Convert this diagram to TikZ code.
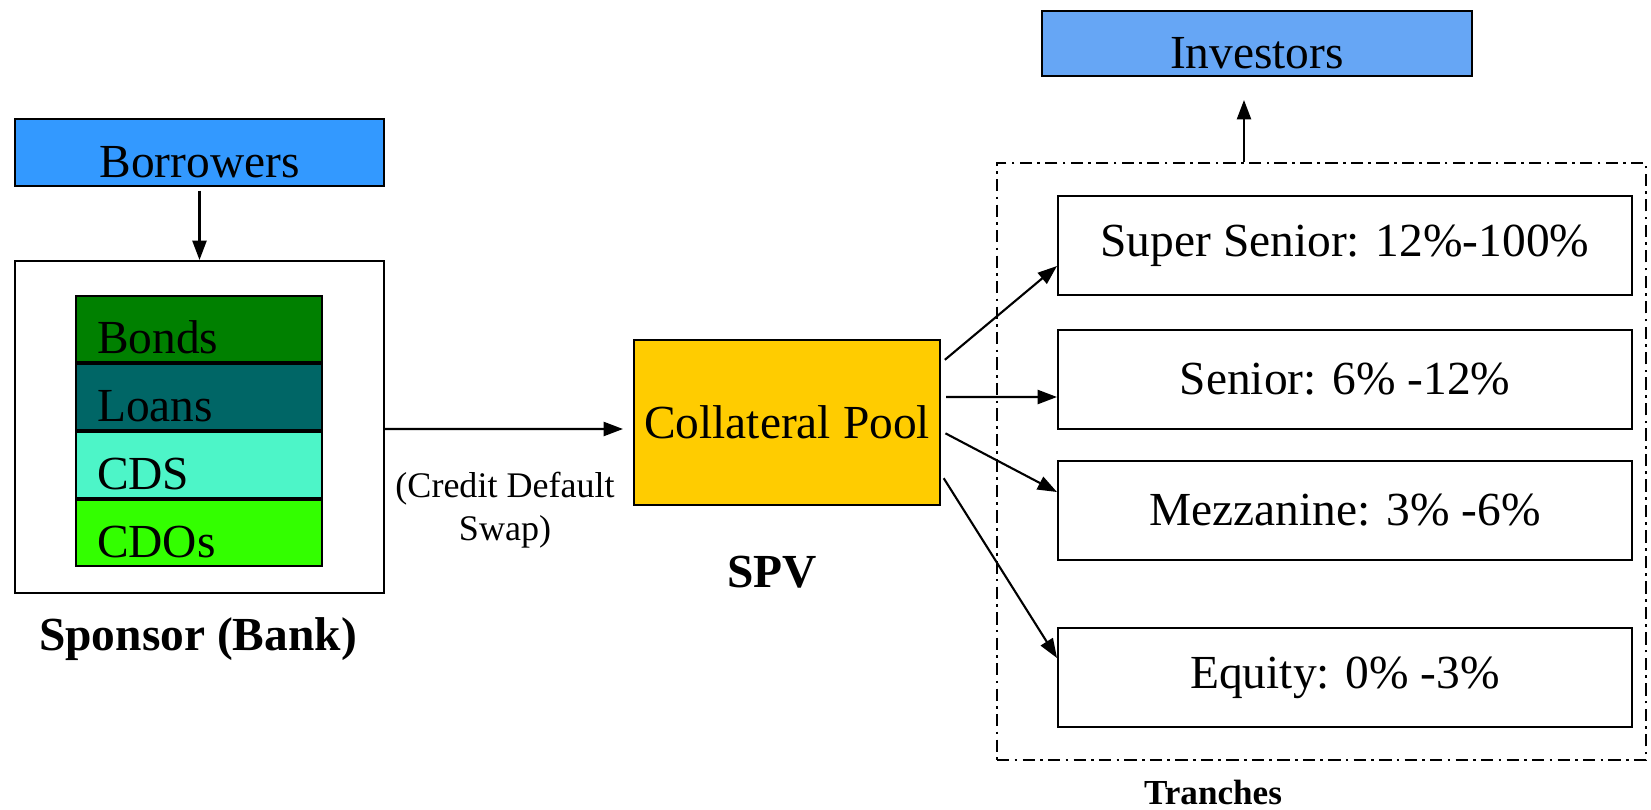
\documentclass[tikz,border=0pt]{standalone}
\usepackage{fontspec}
\setmainfont{Liberation Serif}
\usepackage{tikz}
\usetikzlibrary{positioning,arrows.meta}
\definecolor{borrowblue}{RGB}{51,153,255}
\definecolor{investblue}{RGB}{102,166,245}
\definecolor{bondgreen}{RGB}{0,128,0}
\definecolor{loanteal}{RGB}{0,102,102}
\definecolor{cdsaqua}{RGB}{77,245,200}
\definecolor{cdogreen}{RGB}{51,255,0}
\definecolor{poolgold}{RGB}{255,204,0}

\begin{document}
\begin{tikzpicture}[
x=0.02cm, y=-0.02cm,
node distance=0pt,
every node/.style={font=\fontsize{27}{30}\selectfont, inner sep=0pt},
box/.style={draw, line width=1.2pt, align=center},
lowtext/.style={text height=28pt, text depth=0pt},
layer/.style={box, lowtext, minimum width=4.92cm, minimum height=1.32cm, text width=4.08cm, align=left},
tranche/.style={box, minimum width=11.48cm, minimum height=1.98cm},
caption/.style={font=\fontsize{27}{30}\selectfont\bfseries},
arr/.style={-{Triangle[length=11pt,width=8pt]}, line width=1.2pt}
]
\useasboundingbox (0,0) rectangle (1651,809);

% left side: sponsor and its assets
\node[box, lowtext, fill=borrowblue, minimum width=7.38cm, minimum height=1.34cm] (borrowers) at (199.5,152.5) {Borrowers};
\node[box, minimum width=7.38cm, minimum height=6.64cm] (sponsor) at (199.5,427) {};
\node[layer, fill=bondgreen] (bonds) at (199,329) {Bonds};
\node[layer, fill=loanteal, below=of bonds] (loans) {Loans};
\node[layer, fill=cdsaqua, below=of loans] (cds) {CDS};
\node[layer, fill=cdogreen, below=of cds] (cdos) {CDOs};
\node[caption] (sponsorlbl) at (198,639) {Sponsor (Bank)};

% middle: SPV
\node[box, fill=poolgold, minimum width=6.12cm, minimum height=3.3cm] (pool) at (787,422.5) {Collateral Pool};
\node[caption] (spvlbl) at (772,572) {SPV};
\node[font=\fontsize{20.5}{24.5}\selectfont, align=center] (cdslbl) at (505,510) {(Credit Default\\Swap)};

% right side: tranches
\node[draw, line width=1.2pt, dash pattern=on 7pt off 3pt on 1.5pt off 3pt, minimum width=12.98cm, minimum height=11.94cm] (trframe) at (1321.5,461.5) {};
\node[tranche] (super) at (1345,245.5) {Super Senior: 12\%-100\%};
\node[tranche] (senior) at (1345,379.5) {Senior: 6\% -12\%};
\node[tranche] (mezz) at (1345,510.5) {Mezzanine: 3\% -6\%};
\node[tranche] (equity) at (1345,677.5) {Equity: 0\% -3\%};
\node[font=\fontsize{20}{24}\selectfont\bfseries] (tranchelbl) at (1213,792) {Tranches};
\node[box, lowtext, fill=investblue, minimum width=8.6cm, minimum height=1.3cm] (investors) at (1257,43.5) {Investors};

\coordinate (invtip) at (1244,100);

\draw[arr, shorten <=2pt] (borrowers) -- (sponsor);
\draw[arr, shorten >=0.2cm] ([yshift=-0.04cm]sponsor.east) -- ([yshift=-0.13cm]pool.west);
\draw[arr, shorten <=0.1cm] ([yshift=1.19cm]pool.east) -- ([yshift=-0.41cm]super.west);
\draw[arr, shorten <=0.1cm] ([yshift=0.51cm]pool.east) -- ([yshift=-0.35cm]senior.west);
\draw[arr, shorten <=0.1cm] ([yshift=-0.17cm]pool.east) -- ([yshift=0.37cm]mezz.west);
\draw[arr, shorten <=0.1cm] ([yshift=-1.03cm]pool.east) -- ([yshift=0.39cm]equity.west);
\draw[arr] (trframe.north -| invtip) -- (invtip);
\end{tikzpicture}
\end{document}
